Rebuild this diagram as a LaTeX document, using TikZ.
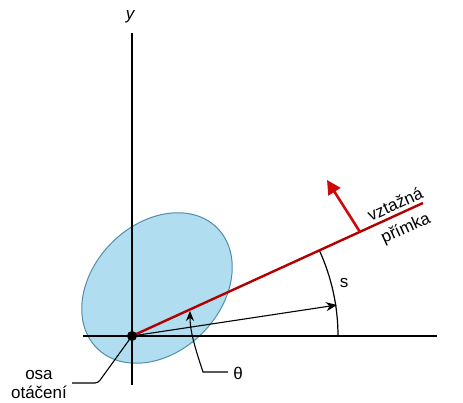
\documentclass[tikz,border=0pt]{standalone}
\usepackage{fontspec}
\setmainfont{Liberation Sans}
\usetikzlibrary{arrows.meta}
\definecolor{ellfill}{HTML}{B1DDF0}
\definecolor{elldraw}{HTML}{4F8FAA}
\definecolor{refred}{HTML}{B20000}
\definecolor{arrred}{HTML}{CC0A0A}
\begin{document}
\begin{tikzpicture}[x=1pt,y=-1pt,
  axisline/.style={line width=1.2pt, black},
  lbl/.style={font=\fontsize{17}{19}\selectfont, inner sep=0pt},
  thinarrow/.style={line width=1.1pt, black, -{Stealth[length=11pt,width=9pt]}},
  redline/.style={line width=2.4pt, refred},
  redarrow/.style={line width=2.6pt, arrred, -{Triangle[length=14pt,width=14pt]}},
  leader/.style={line width=1.1pt, black}]
\useasboundingbox (0,0) rectangle (463,403);
% ellipse
\draw[fill=ellfill, draw=elldraw, line width=1pt, rotate around={45:(157,288)}]
  (157,288) ellipse [x radius=85, y radius=64];
% axes
\coordinate (O) at (132,336);
\coordinate (ytop) at (132,33);
\coordinate (ybot) at (132,385);
\coordinate (xl) at (83,336);
\coordinate (xr) at (437,336);
\draw[axisline] (ybot) -- (ytop);
\draw[axisline] (xl) -- (xr);
\node[lbl, font=\fontsize{17}{20}\selectfont\itshape] (ylab) at (130,17) {y};
% black arrow
\coordinate (B) at (337,305);
\draw[thinarrow] (O) -- (B);
% arc s
\coordinate (A0) at (338,336);
\draw[axisline] (A0) arc[start angle=0, end angle=-24.56, radius=206];
\node[lbl] (slab) at (344,283) {s};
% red reference line
\coordinate (R) at (423,203);
\draw[redline] (O) -- (R);
\coordinate (Rb) at (360,232);
\coordinate (Rt) at (327,180);
\draw[redarrow] (Rb) -- (Rt);
\node[lbl, rotate=24.56] (vz) at (395,204) {vztažná};
\node[lbl, rotate=24.56] (pr) at (406,229) {přímka};
% origin dot
\node[circle, fill=black, inner sep=0pt, minimum size=10pt] (dot) at (O) {};
% theta
\node[lbl] (th) at (238,373) {θ};
\coordinate (th1) at (228,372);
\coordinate (th2) at (203,372);
\coordinate (thtip) at (190,311);
\draw[leader, -{Stealth[length=10pt,width=8pt]}] (th1) -- (th2) .. controls (194,345) and (190,330) .. (thtip);
% osa otaceni
\node[lbl, align=center] (osa) at (39,385) {osa\\otáčení};
\coordinate (o1) at (72,383);
\coordinate (o2) at (98,383);
\draw[leader, rounded corners=3pt] (o1) -- (o2) -- (dot.center);
\end{tikzpicture}
\end{document}
